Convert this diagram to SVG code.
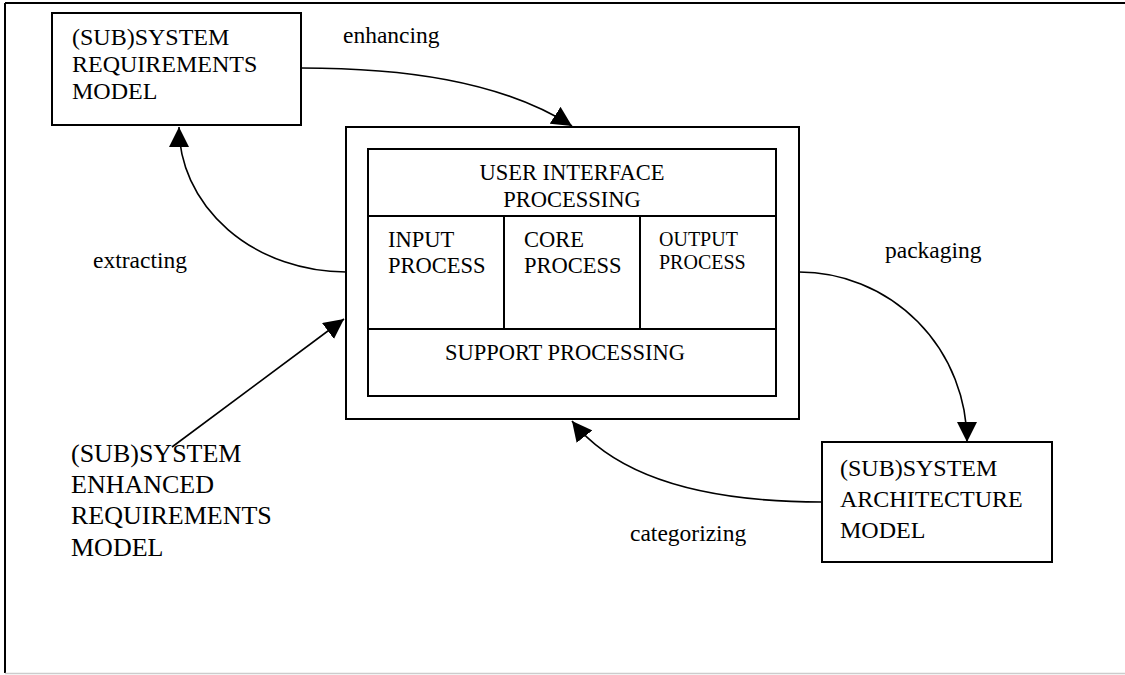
<svg xmlns="http://www.w3.org/2000/svg" width="1125" height="675" viewBox="0 0 1125 675">
<style>
text{font-family:"Liberation Serif","Times New Roman",serif;fill:#000}
.box{fill:#fff;stroke:#000;stroke-width:2}
.cell{fill:none;stroke:#000;stroke-width:2}
.conn{fill:none;stroke:#000;stroke-width:1.6}
.t24{font-size:24px}
.t26{font-size:26px}
.t22{font-size:22.5px}
.t20{font-size:20px}
.lbl{font-size:23.5px}
</style>
<defs>
<marker id="ah" markerUnits="userSpaceOnUse" markerWidth="20" markerHeight="20" viewBox="0 0 20 20" refX="20" refY="10" orient="auto">
<path d="M0,0 L20,10 L0,20 z" fill="#000"/>
</marker>
</defs>
<rect width="1125" height="675" fill="#fff"/>
<g id="frame">
<line x1="5" y1="3" x2="1125" y2="3" stroke="#000" stroke-width="2"/>
<line x1="5" y1="3" x2="5" y2="673" stroke="#000" stroke-width="2"/>
<line x1="5" y1="673.5" x2="1125" y2="673.5" stroke="#ccc" stroke-width="1.5"/>
</g>
<g id="connectors">
<path class="conn" d="M301,68 C400,68 500,80 572,126" marker-end="url(#ah)"/>
<path class="conn" d="M346,272 A167,145 0 0 1 179,127" marker-end="url(#ah)"/>
<path class="conn" d="M799,272 A168,170 0 0 1 967,442" marker-end="url(#ah)"/>
<path class="conn" d="M822,502 C700,502 615,475 572,421" marker-end="url(#ah)"/>
<path class="conn" d="M172,447 L344,319" marker-end="url(#ah)"/>
</g>
<g id="labels">
<text class="lbl" x="343" y="43">enhancing</text>
<text class="lbl" x="93" y="268">extracting</text>
<text class="lbl" x="885" y="258">packaging</text>
<text class="lbl" x="630" y="541">categorizing</text>
</g>
<g id="sysreq">
<rect class="box" x="52" y="13" width="249" height="112"/>
<text class="t24" x="72" y="45">(SUB)SYSTEM</text>
<text class="t24" x="72" y="72">REQUIREMENTS</text>
<text class="t24" x="72" y="99">MODEL</text>
</g>
<g id="central">
<rect class="box" x="346" y="127" width="453" height="292"/>
<rect class="cell" x="368" y="149" width="408" height="247"/>
<line class="cell" x1="368" y1="216" x2="776" y2="216"/>
<line class="cell" x1="368" y1="329" x2="776" y2="329"/>
<line class="cell" x1="504" y1="216" x2="504" y2="329"/>
<line class="cell" x1="640" y1="216" x2="640" y2="329"/>
</g>
<g id="ui">
<text class="t22" x="572" y="180" text-anchor="middle">USER INTERFACE</text>
<text class="t22" x="572" y="207" text-anchor="middle">PROCESSING</text>
</g>
<g id="input">
<text class="t22" x="388" y="247">INPUT</text>
<text class="t22" x="388" y="273">PROCESS</text>
</g>
<g id="core">
<text class="t22" x="524" y="247">CORE</text>
<text class="t22" x="524" y="273">PROCESS</text>
</g>
<g id="output">
<text class="t20" x="659" y="246">OUTPUT</text>
<text class="t20" x="659" y="269">PROCESS</text>
</g>
<g id="support">
<text class="t22" x="565" y="360" text-anchor="middle">SUPPORT PROCESSING</text>
</g>
<g id="sysarch">
<rect class="box" x="822" y="442" width="230" height="120"/>
<text class="t24" x="840" y="476">(SUB)SYSTEM</text>
<text class="t24" x="840" y="507">ARCHITECTURE</text>
<text class="t24" x="840" y="538">MODEL</text>
</g>
<g id="enhanced">
<text class="t26" x="71" y="462">(SUB)SYSTEM</text>
<text class="t26" x="71" y="493">ENHANCED</text>
<text class="t26" x="71" y="524">REQUIREMENTS</text>
<text class="t26" x="71" y="556">MODEL</text>
</g>
</svg>
